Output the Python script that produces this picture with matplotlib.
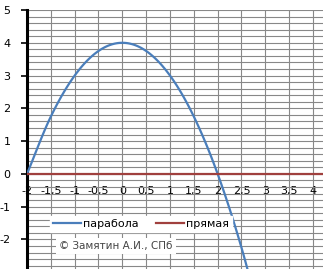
import numpy as np
import matplotlib.pyplot as plt
from matplotlib.ticker import MultipleLocator, FuncFormatter

plt.rcParams['axes.unicode_minus'] = False

# parabola points (Excel-style table, step 0.5)
par_x = [-2, -1.5, -1, -0.5, 0, 0.5, 1, 1.5, 2, 2.5, 3]
par_y = [0, 1.75, 3, 3.75, 4, 3.75, 3, 1.75, 0, -2.25, -5]
# straight line y = 0
line_x = [-2, 4.5]
line_y = [0, 0]

labels = ['парабола', 'прямая']
blue = '#4A7EBB'
red = '#A0403E'


def smooth(xs, ys, n=12):
    # Catmull-Rom style smoothing like Excel's "smoothed line"
    xs = np.asarray(xs, float)
    ys = np.asarray(ys, float)
    px = np.concatenate([[2 * xs[0] - xs[1]], xs, [2 * xs[-1] - xs[-2]]])
    py = np.concatenate([[2 * ys[0] - ys[1]], ys, [2 * ys[-1] - ys[-2]]])
    t = np.linspace(0, 1, n, endpoint=False)
    ox, oy = [], []
    for i in range(1, len(px) - 2):
        for arr, out in ((px, ox), (py, oy)):
            p0, p1, p2, p3 = arr[i - 1], arr[i], arr[i + 1], arr[i + 2]
            out.extend(0.5 * (2 * p1 + (-p0 + p2) * t + (2 * p0 - 5 * p1 + 4 * p2 - p3) * t ** 2
                              + (-p0 + 3 * p1 - 3 * p2 + p3) * t ** 3))
    ox.append(xs[-1])
    oy.append(ys[-1])
    return ox, oy


fig = plt.figure(figsize=(3.23, 2.69), dpi=100)
ax = fig.add_axes([27 / 323, 0.0, 1 - 27 / 323, 1 - 10 / 269])

sx, sy = smooth(par_x, par_y)
ax.plot(sx, sy, color=blue, lw=1.6, label=labels[0], zorder=3)
ax.plot(line_x, line_y, color=red, lw=1.6, label=labels[1], zorder=3)

ax.set_xlim(-2, 4.21)
ax.set_ylim(-2.9, 5)

ax.xaxis.set_major_locator(MultipleLocator(0.5))
ax.yaxis.set_major_locator(MultipleLocator(1))
ax.yaxis.set_minor_locator(MultipleLocator(0.2))
ax.grid(True, which='major', axis='x', color='#888888', lw=0.8)
ax.grid(True, which='both', axis='y', color='#888888', lw=0.8)
ax.set_axisbelow(True)

fmt = FuncFormatter(lambda v, p: ('%g' % v).replace('.', ','))
ax.xaxis.set_major_formatter(fmt)
ax.yaxis.set_major_formatter(fmt)

# x axis crosses at y = 0
ax.spines['bottom'].set_position(('data', 0))
ax.spines['bottom'].set_visible(False)
ax.spines['top'].set_visible(False)
ax.spines['right'].set_visible(False)
ax.spines['left'].set_linewidth(2.2)
ax.tick_params(axis='x', length=0, pad=9, labelsize=8, colors='black')
ax.tick_params(axis='y', which='major', length=4, width=1.2, direction='out', labelsize=8, pad=8)
ax.tick_params(axis='y', which='minor', length=0)

leg = fig.legend(loc='center', bbox_to_anchor=(141 / 323, 1 - 224 / 269), ncol=2,
                 frameon=True, fontsize=8, handlelength=2.5, handletextpad=0.15,
                 columnspacing=1.6, borderpad=0.3, fancybox=False)
leg.get_frame().set_edgecolor('white')
leg.get_frame().set_facecolor('white')
leg.get_frame().set_alpha(1)

fig.text(116 / 323, 1 - 246 / 269, '© Замятин А.И., СПб', ha='center', va='center',
         fontsize=7.5, color='#444444',
         bbox=dict(facecolor='white', edgecolor='none', pad=2.5))

fig.savefig('out.png', dpi=100)
